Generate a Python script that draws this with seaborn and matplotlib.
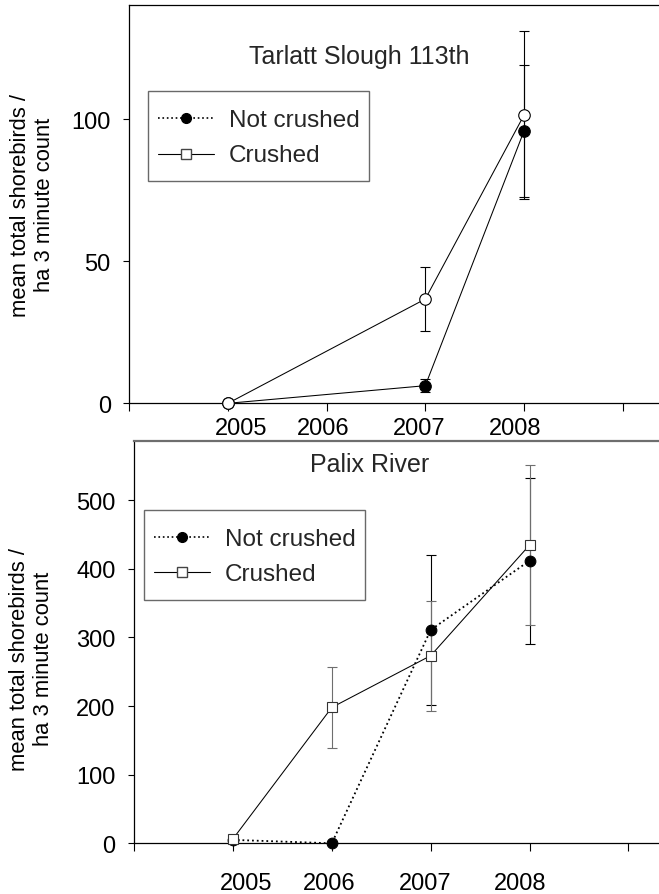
import numpy as np
import pandas as pd
import seaborn as sns
import matplotlib.pyplot as plt
from matplotlib.lines import Line2D
from matplotlib.legend_handler import HandlerLine2D
from matplotlib.transforms import ScaledTranslation

# --- data ---
tarlatt_years = [2005, 2007, 2008]
tarlatt_not_crushed = [0, 6.2, 95.8]
tarlatt_not_crushed_se = [0, 2.2, 23.3]
tarlatt_crushed = [0, 36.7, 101.4]
tarlatt_crushed_se = [0, 11.2, 29.5]

palix_years = [2005, 2006, 2007, 2008]
palix_not_crushed = [5, 0, 311, 412]
palix_not_crushed_se = [0, 0, 109.5, 121]
palix_crushed = [6.3, 198, 273.5, 434.8]
palix_crushed_se = [0, 59.5, 80, 116.6]

year_ticks = [2004, 2005, 2006, 2007, 2008, 2009]
year_labels = ['', '2005', '2006', '2007', '2008', '']
label_shift_px = [0, 13, -3, -6, -9, 0]

sns.set_theme(style='ticks')
plt.rcParams['font.family'] = ['Liberation Sans', 'DejaVu Sans']

fig = plt.figure(figsize=(6.59, 8.95), dpi=100)
ax1 = fig.add_axes([129.3 / 659, 1 - 404.3 / 895, 592 / 659, 398.3 / 895])
ax2 = fig.add_axes([134 / 659, 1 - 844.3 / 895, 593.4 / 659, 402.3 / 895])

GRAY = '#6e6e6e'


def draw_errors(ax, x, y, se, color):
    x, y, se = np.array(x), np.array(y), np.array(se)
    m = se > 0
    ax.errorbar(x[m], y[m], yerr=se[m], fmt='none', ecolor=color,
                elinewidth=0.8, capsize=3.9, capthick=0.8, zorder=2, clip_on=False)


def draw_series(ax, x, y, ls, marker, ms, fc, ec, z):
    df = pd.DataFrame({'year': x, 'value': y})
    sns.lineplot(data=df, x='year', y='value', ax=ax, color='black', linestyle=ls,
                 linewidth=0.75 if ls == '-' else 1.3, marker=marker, markersize=ms,
                 markerfacecolor=fc, markeredgecolor=ec, markeredgewidth=0.8,
                 clip_on=False, zorder=z, legend=False)


# keeps the legend handle centred on its text when rows are made taller
class CentredLine(HandlerLine2D):
    def create_artists(self, legend, orig_handle, xdescent, ydescent, width, height,
                       fontsize, trans):
        return super().create_artists(legend, orig_handle, xdescent, 2 * ydescent,
                                      width, height, fontsize, trans)


# top panel
draw_errors(ax1, tarlatt_years, tarlatt_not_crushed, tarlatt_not_crushed_se, 'black')
draw_errors(ax1, tarlatt_years, tarlatt_crushed, tarlatt_crushed_se, 'black')
draw_series(ax1, tarlatt_years, tarlatt_not_crushed, '-', 'o', 8.3, 'black', 'black', 3)
draw_series(ax1, tarlatt_years, tarlatt_crushed, '-', 'o', 8.3, 'white', 'black', 4)

# bottom panel
draw_errors(ax2, palix_years, palix_not_crushed, palix_not_crushed_se, 'black')
draw_errors(ax2, palix_years, palix_crushed, palix_crushed_se, GRAY)
draw_series(ax2, palix_years, palix_not_crushed, ':', 'o', 7.7, 'black', 'black', 3)
draw_series(ax2, palix_years, palix_crushed, '-', 's', 7.2, 'white', '#333333', 4)

ax1.set_ylim(0, 140.2)
ax1.set_yticks([0, 50, 100])
ax2.set_ylim(0, 586.4)
ax2.set_yticks([0, 100, 200, 300, 400, 500])

for ax, xpad in [(ax1, 4.5), (ax2, 15.5)]:
    ax.set_xlim(2004, 2010)
    ax.set_xticks(year_ticks)
    ax.set_xticklabels(year_labels)
    ax.tick_params(axis='x', direction='out', length=5.5, width=0.8, colors='black',
                   labelsize=17, pad=xpad)
    ax.tick_params(axis='y', direction='out', length=4.3, width=0.8, colors='black',
                   labelsize=17, pad=9)
    for lab, dx in zip(ax.get_xticklabels(), label_shift_px):
        lab.set_transform(lab.get_transform() + ScaledTranslation(dx / 100, 0, fig.dpi_scale_trans))
    ax.spines['right'].set_visible(False)
    for s in ['left', 'bottom', 'top']:
        ax.spines[s].set_color('black')
        ax.spines[s].set_linewidth(0.9)
    ax.set_xlabel('')
    ax.set_ylabel('mean total shorebirds /\nha 3 minute count', fontsize=15.8, color='black')

ax2.spines['top'].set_color(GRAY)
ax2.spines['top'].set_linewidth(1.6)

ax1.yaxis.set_label_coords(-0.126, 0.5)
ax2.yaxis.set_label_coords(-0.134, 0.46)

ax1.text(0.388, 0.871, 'Tarlatt Slough 113th', transform=ax1.transAxes,
         ha='center', va='center', fontsize=18)
ax2.text(0.397, 0.943, 'Palix River', transform=ax2.transAxes,
         ha='center', va='center', fontsize=18)

handles = [
    Line2D([], [], color='black', linestyle=':', linewidth=1.2, marker='o',
           markersize=7, markerfacecolor='black', markeredgecolor='black'),
    Line2D([], [], color='black', linestyle='-', linewidth=0.8, marker='s',
           markersize=6.5, markerfacecolor='white', markeredgecolor='#444444'),
]
for ax, anchor in [(ax1, (0.0321, 0.784)), (ax2, (0.0174, 0.829))]:
    leg = ax.legend(handles, ['Not crushed', 'Crushed'], loc='upper left',
                    bbox_to_anchor=anchor, borderaxespad=0, fontsize=17.5,
                    frameon=True, fancybox=False, handlelength=2.3, handleheight=1.85,
                    handletextpad=0.6, labelspacing=0.0, borderpad=0.4,
                    handler_map={Line2D: CentredLine()})
    leg.get_frame().set_edgecolor('#444444')
    leg.get_frame().set_linewidth(1.0)

fig.savefig('out.png', dpi=100)
